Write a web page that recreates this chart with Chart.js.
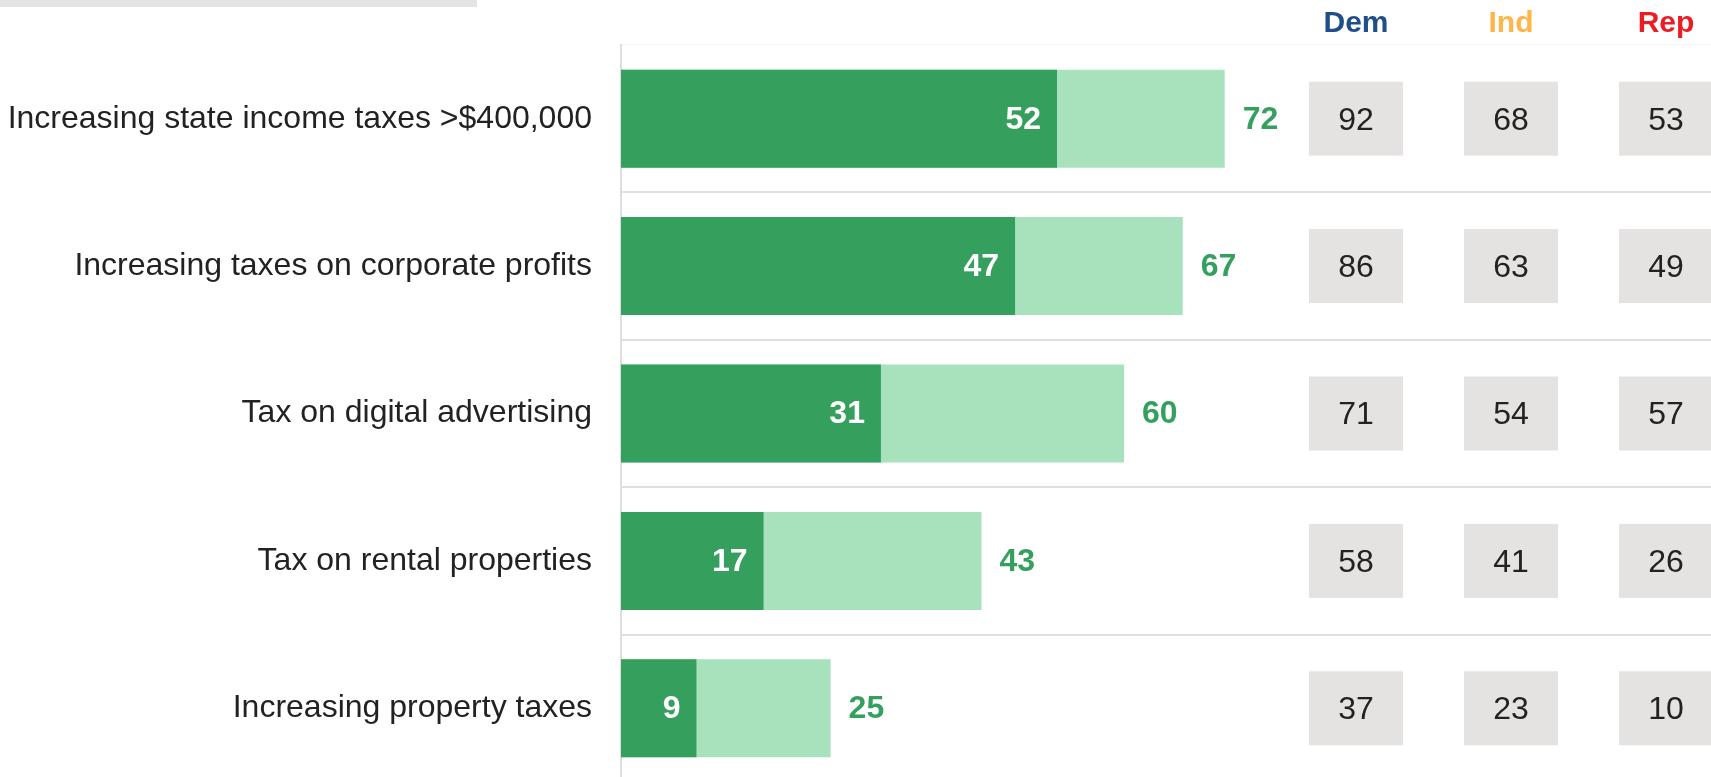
<!DOCTYPE html>
<html>
<head>
<meta charset="utf-8">
<script src="https://cdn.jsdelivr.net/npm/chart.js@4/dist/chart.umd.min.js"></script>
<style>
  html, body { margin: 0; padding: 0; background: #fff; overflow: hidden; }
  #wrap { position: relative; width: 1711px; height: 782px; }
  #topbar { position: absolute; left: 0; top: 0; width: 477px; height: 7px; background: #e4e4e4; }
  canvas { position: absolute; left: 0; top: 0; }
</style>
</head>
<body>
<div id="wrap">
  <div id="topbar"></div>
  <canvas id="chart" width="1711" height="782"></canvas>
</div>
<script>
// policies (rows)
const categories = [
    'Increasing state income taxes >$400,000',
    'Increasing taxes on corporate profits',
    'Tax on digital advertising',
    'Tax on rental properties',
    'Increasing property taxes'
];

// strong support and total support (%)
const strongValues = [52, 47, 31, 17, 9];
const totalValues = [72, 67, 60, 43, 25];

// total support by party
const partyLabels = ['Dem', 'Ind', 'Rep'];
const demValues = [92, 86, 71, 58, 37];
const indValues = [68, 63, 54, 41, 23];
const repValues = [53, 49, 57, 26, 10];

const FONT = '"Liberation Sans", Arial, Helvetica, sans-serif';
const darkGreen = '#35a05e';
const lightGreen = '#a7e2bd';
const partyColors = ['#1f4e8a', '#ffb547', '#ec1c24'];
const partyX = [1356, 1511, 1666];
const boxW = 94, boxH = 74;

// labels on bars + party table
const tablePlugin = {
    id: 'tablePlugin',
    afterDatasetsDraw(chart) {
        const ctx = chart.ctx;
        const strongMeta = chart.getDatasetMeta(0);
        const totalMeta = chart.getDatasetMeta(1);
        const yScale = chart.scales.y;
        ctx.save();
        ctx.textBaseline = 'middle';

        // numbers on the bars
        ctx.font = 'bold 32px ' + FONT;
        strongMeta.data.forEach((bar, i) => {
            ctx.fillStyle = '#fff';
            ctx.textAlign = 'right';
            ctx.fillText(strongValues[i], bar.x - 16, bar.y + 1);
        });
        totalMeta.data.forEach((bar, i) => {
            ctx.fillStyle = darkGreen;
            ctx.textAlign = 'left';
            ctx.fillText(totalValues[i], bar.x + 18, bar.y + 1);
        });

        // party header
        ctx.textAlign = 'center';
        ctx.font = 'bold 30px ' + FONT;
        partyLabels.forEach((p, j) => {
            ctx.fillStyle = partyColors[j];
            ctx.fillText(p, partyX[j], 24);
        });

        // party cells
        const cols = [demValues, indValues, repValues];
        ctx.font = '32px ' + FONT;
        categories.forEach((c, i) => {
            const y = yScale.getPixelForValue(i);
            cols.forEach((vals, j) => {
                ctx.fillStyle = '#e4e3e1';
                ctx.fillRect(partyX[j] - boxW / 2, y - boxH / 2, boxW, boxH);
                ctx.fillStyle = '#222';
                ctx.fillText(vals[i], partyX[j], y + 2);
            });
        });
        ctx.restore();
    }
};

new Chart(document.getElementById('chart'), {
    type: 'bar',
    data: {
        labels: categories,
        datasets: [
            { label: 'Strong', data: strongValues, backgroundColor: darkGreen },
            { label: 'Total', data: totalValues, backgroundColor: lightGreen }
        ]
    },
    options: {
        indexAxis: 'y',
        responsive: false,
        animation: false,
        grouped: false,
        barPercentage: 0.665,
        categoryPercentage: 1,
        layout: { padding: { top: 45, left: 0, right: 0, bottom: 0 } },
        plugins: {
            legend: { display: false },
            tooltip: { enabled: false }
        },
        scales: {
            x: { display: false, min: 0, max: 130 },
            y: {
                afterFit: (scale) => {
                    scale.width = 621;
                    scale.paddingTop = 0;
                    scale.paddingBottom = 0;
                },
                border: { display: true, color: '#dedede', width: 2 },
                grid: {
                    drawTicks: false,
                    offset: true,
                    color: (c) => c.index === 0 ? '#f3f3f3' : '#e0e0e0',
                    lineWidth: (c) => c.index === 0 ? 1 : 2
                },
                ticks: {
                    padding: 29,
                    color: '#222',
                    font: { family: FONT, size: 32 }
                }
            }
        }
    },
    plugins: [tablePlugin]
});
</script>
</body>
</html>
